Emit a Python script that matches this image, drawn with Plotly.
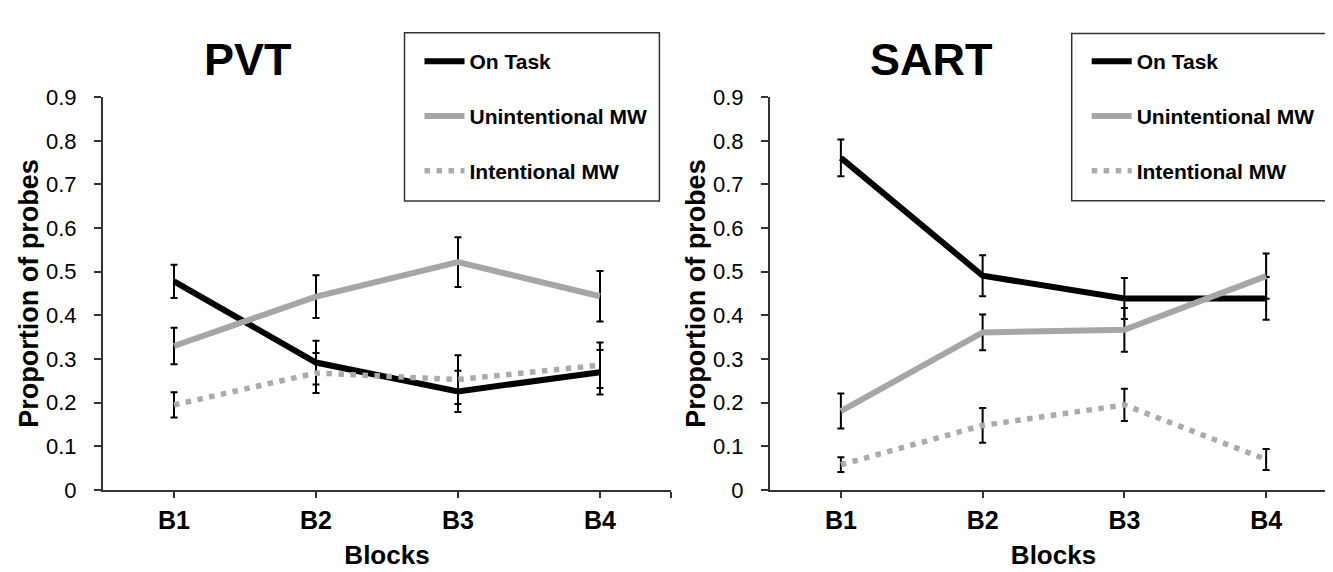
import plotly.graph_objects as go

# ---- data ----
blocks = ["B1", "B2", "B3", "B4"]
series_names = ["On Task", "Unintentional MW", "Intentional MW"]

pvt_on_task = [0.478, 0.292, 0.226, 0.270]
pvt_on_task_err = [0.038, 0.050, 0.047, 0.051]
pvt_unint = [0.330, 0.443, 0.522, 0.444]
pvt_unint_err = [0.042, 0.049, 0.057, 0.058]
pvt_int = [0.195, 0.268, 0.253, 0.286]
pvt_int_err = [0.029, 0.046, 0.056, 0.052]

sart_on_task = [0.761, 0.491, 0.439, 0.439]
sart_on_task_err = [0.042, 0.047, 0.047, 0.049]
sart_unint = [0.181, 0.361, 0.367, 0.490]
sart_unint_err = [0.040, 0.041, 0.050, 0.052]
sart_int = [0.058, 0.148, 0.195, 0.070]
sart_int_err = [0.017, 0.040, 0.037, 0.024]

panel_titles = ["PVT", "SART"]
y_title = "Proportion of probes"
x_title = "Blocks"

# ---- layout constants ----
W, H = 1333, 572
FONT = "Arial, Liberation Sans, sans-serif"
AX = "#333333"
GRAY = "#A6A6A6"

x_idx = list(range(len(blocks)))


def px_x(p):
    return p / W


def px_y(p):
    return 1 - p / H


styles = [
    dict(color="black", width=6, dash="solid"),
    dict(color=GRAY, width=6, dash="solid"),
    dict(color="#ABABAB", width=5.5, dash="5.5px,6.5px"),
]

panels = [
    (pvt_on_task, pvt_on_task_err, pvt_unint, pvt_unint_err, pvt_int, pvt_int_err),
    (sart_on_task, sart_on_task_err, sart_unint, sart_unint_err, sart_int, sart_int_err),
]

fig = go.Figure()
for p, data in enumerate(panels):
    xa = "x" if p == 0 else "x2"
    ya = "y" if p == 0 else "y2"
    lg = "legend" if p == 0 else "legend2"
    for s in range(3):
        vals = data[2 * s]
        errs = data[2 * s + 1]
        fig.add_trace(go.Scatter(
            x=x_idx, y=vals, name=series_names[s], mode="lines",
            line=styles[s], xaxis=xa, yaxis=ya, legend=lg,
            legendgroup=f"{p}-{s}",
            error_y=dict(type="data", array=errs, visible=True,
                         color="black", thickness=2, width=3.5),
        ))

x_domains = [[px_x(95), px_x(663)], [px_x(762), px_x(1329)]]
y_domain = [px_y(491.5), px_y(80.7)]

axis_common_x = dict(
    range=[-0.5, len(blocks) - 0.5],
    tickmode="array",
    tickvals=x_idx + [len(blocks) - 0.5],
    ticktext=blocks + [""],
    showgrid=False, zeroline=False,
    showline=True, linecolor=AX, linewidth=2,
    ticks="outside", ticklen=6, tickwidth=2, tickcolor=AX,
    tickfont=dict(family=FONT, size=25, color="black", weight="bold"),
    ticklabelstandoff=1,
    title=dict(text=x_title, standoff=13,
               font=dict(family=FONT, size=26, color="black", weight="bold")),
)
axis_common_y = dict(
    range=[0, 0.9], dtick=0.1, tick0=0,
    showgrid=False, zeroline=False,
    showline=True, linecolor=AX, linewidth=2,
    ticks="outside", ticklen=7, tickwidth=2, tickcolor=AX,
    tickfont=dict(family=FONT, size=22, color="black"),
    ticklabelstandoff=13,
    title=dict(text=y_title, standoff=0,
               font=dict(family=FONT, size=27, color="black", weight="bold")),
    domain=y_domain,
)

legend_common = dict(
    font=dict(family=FONT, size=21, color="black", weight="bold"),
    bgcolor="rgba(0,0,0,0)", borderwidth=0,
    itemwidth=40, tracegroupgap=24.5,
    xanchor="left", yanchor="top",
)

fig.update_layout(
    width=W, height=H,
    margin=dict(l=0, r=0, t=0, b=0),
    paper_bgcolor="white", plot_bgcolor="white",
    showlegend=True,
    xaxis=dict(axis_common_x, domain=x_domains[0], anchor="y"),
    yaxis=dict(axis_common_y, anchor="x"),
    xaxis2=dict(axis_common_x, domain=x_domains[1], anchor="y2"),
    yaxis2=dict(axis_common_y, anchor="x2"),
    legend=dict(legend_common, x=px_x(396.5 + 15), y=px_y(22)),
    legend2=dict(legend_common, x=px_x(1063.7 + 15), y=px_y(22)),
    annotations=[
        dict(text=panel_titles[0], x=px_x(239.7), y=px_y(41), xref="paper", yref="paper",
             xanchor="center", yanchor="middle", showarrow=False,
             font=dict(family=FONT, size=45, color="black", weight="bold")),
        dict(text=panel_titles[1], x=px_x(923.8), y=px_y(41), xref="paper", yref="paper",
             xanchor="center", yanchor="middle", showarrow=False,
             font=dict(family=FONT, size=45, color="black", weight="bold")),
    ],
    shapes=[
        dict(type="rect", xref="paper", yref="paper",
             x0=px_x(396.5), x1=px_x(651.4), y0=px_y(189.3), y1=px_y(13.3),
             line=dict(color=AX, width=1.5)),
        dict(type="rect", xref="paper", yref="paper",
             x0=px_x(1063.7), x1=px_x(1318.5), y0=px_y(189), y1=px_y(14),
             line=dict(color=AX, width=1.5)),
    ],
)

fig.write_html("out.html")
